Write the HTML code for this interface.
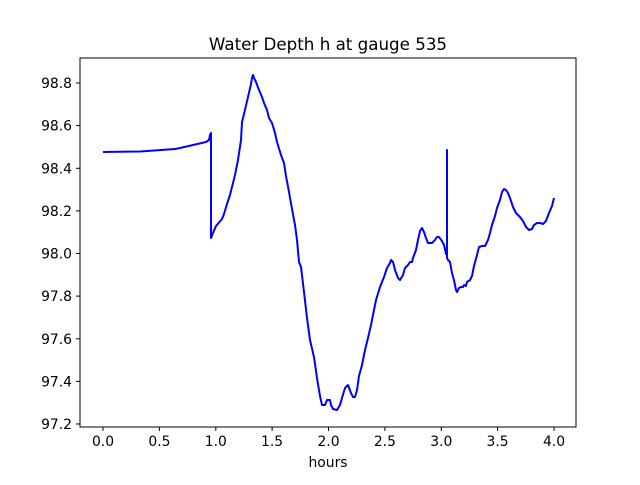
<!DOCTYPE html>
<html><head><meta charset="utf-8"><style>
body{margin:0;background:#fff}
text{font-family:"DejaVu Sans","Liberation Sans",sans-serif;font-size:13.9px;fill:#000}
</style></head><body>
<svg width="640" height="480" xmlns="http://www.w3.org/2000/svg">
<rect width="640" height="480" fill="#fff"/>
<text x="328" y="50" text-anchor="middle" style="font-size:16.7px">Water Depth h at gauge 535</text>
<polyline fill="none" stroke="#0000ff" stroke-width="2" stroke-linejoin="round" points="103,152 140,151.5 175,149 180,148 206,142 209,140 210,135 211,133 211,238 213,233 216,226 222,219 224,214 227,204 230,195 232,187 235,175 238,160 241,140 242,122 245,110 248,97 251,84 252,78 253,75 254,78 256,82 259,90 262,97 264,103 267,110 269,118 272,123 275,133 277,142 281,155 284,163 286,176 289,192 292,209 295,225 297,240 299,262 301,267 304,292 307,318 310,340 314,357 317,378 320,396 322,405 325,405 327,400 330,400 331,405 333,409 337,410 340,405 342,398 345,388 348,385 351,393 353,397 355,397 357,390 359,376 362,365 365,350 368,338 371,325 373,315 376,300 380,287 384,277 387,268 390,263 391,260 393,262 395,270 398,278 400,280 403,275 405,268 408,265 410,262 412,262 413,258 416,250 418,240 420,231 422,228 424,232 426,238 428,243 432,243 435,240 437,237 439,237 442,241 444,245 446,254 447,255 447,150 447,258 448,260 450,262 452,273 454,280 456,290 457,292 459,288 461,287 463,287 464,285 466,286 467,282 470,280 472,276 474,266 477,255 479,247 482,246 485,246 488,240 490,233 492,225 495,216 497,208 500,200 502,192 504,189 506,190 508,193 510,198 513,207 516,213 520,217 523,221 526,227 529,230 532,229 534,225 537,223 540,223 543,224 546,221 549,213 552,206 554,198"/>
<rect x="80" y="58" width="496" height="369" fill="none" stroke="#000" stroke-width="1"/>
<g stroke="#000" stroke-width="1">
<line x1="103" y1="427" x2="103" y2="431"/><line x1="159.4" y1="427" x2="159.4" y2="431"/><line x1="215.8" y1="427" x2="215.8" y2="431"/><line x1="272.1" y1="427" x2="272.1" y2="431"/><line x1="328.5" y1="427" x2="328.5" y2="431"/><line x1="384.9" y1="427" x2="384.9" y2="431"/><line x1="441.3" y1="427" x2="441.3" y2="431"/><line x1="497.6" y1="427" x2="497.6" y2="431"/><line x1="554" y1="427" x2="554" y2="431"/>
<line x1="76" y1="83" x2="80" y2="83"/><line x1="76" y1="125.6" x2="80" y2="125.6"/><line x1="76" y1="168.3" x2="80" y2="168.3"/><line x1="76" y1="210.9" x2="80" y2="210.9"/><line x1="76" y1="253.5" x2="80" y2="253.5"/><line x1="76" y1="296.1" x2="80" y2="296.1"/><line x1="76" y1="338.8" x2="80" y2="338.8"/><line x1="76" y1="381.4" x2="80" y2="381.4"/><line x1="76" y1="424" x2="80" y2="424"/>
</g>
<g text-anchor="middle">
<text x="103" y="446">0.0</text><text x="159.4" y="446">0.5</text><text x="215.8" y="446">1.0</text><text x="272.1" y="446">1.5</text><text x="328.5" y="446">2.0</text><text x="384.9" y="446">2.5</text><text x="441.3" y="446">3.0</text><text x="497.6" y="446">3.5</text><text x="554" y="446">4.0</text>
<text x="328" y="467">hours</text>
</g>
<g text-anchor="end">
<text x="72" y="88">98.8</text><text x="72" y="130.6">98.6</text><text x="72" y="173.3">98.4</text><text x="72" y="215.9">98.2</text><text x="72" y="258.5">98.0</text><text x="72" y="301.1">97.8</text><text x="72" y="343.8">97.6</text><text x="72" y="386.4">97.4</text><text x="72" y="429">97.2</text>
</g>
</svg>
</body></html>
